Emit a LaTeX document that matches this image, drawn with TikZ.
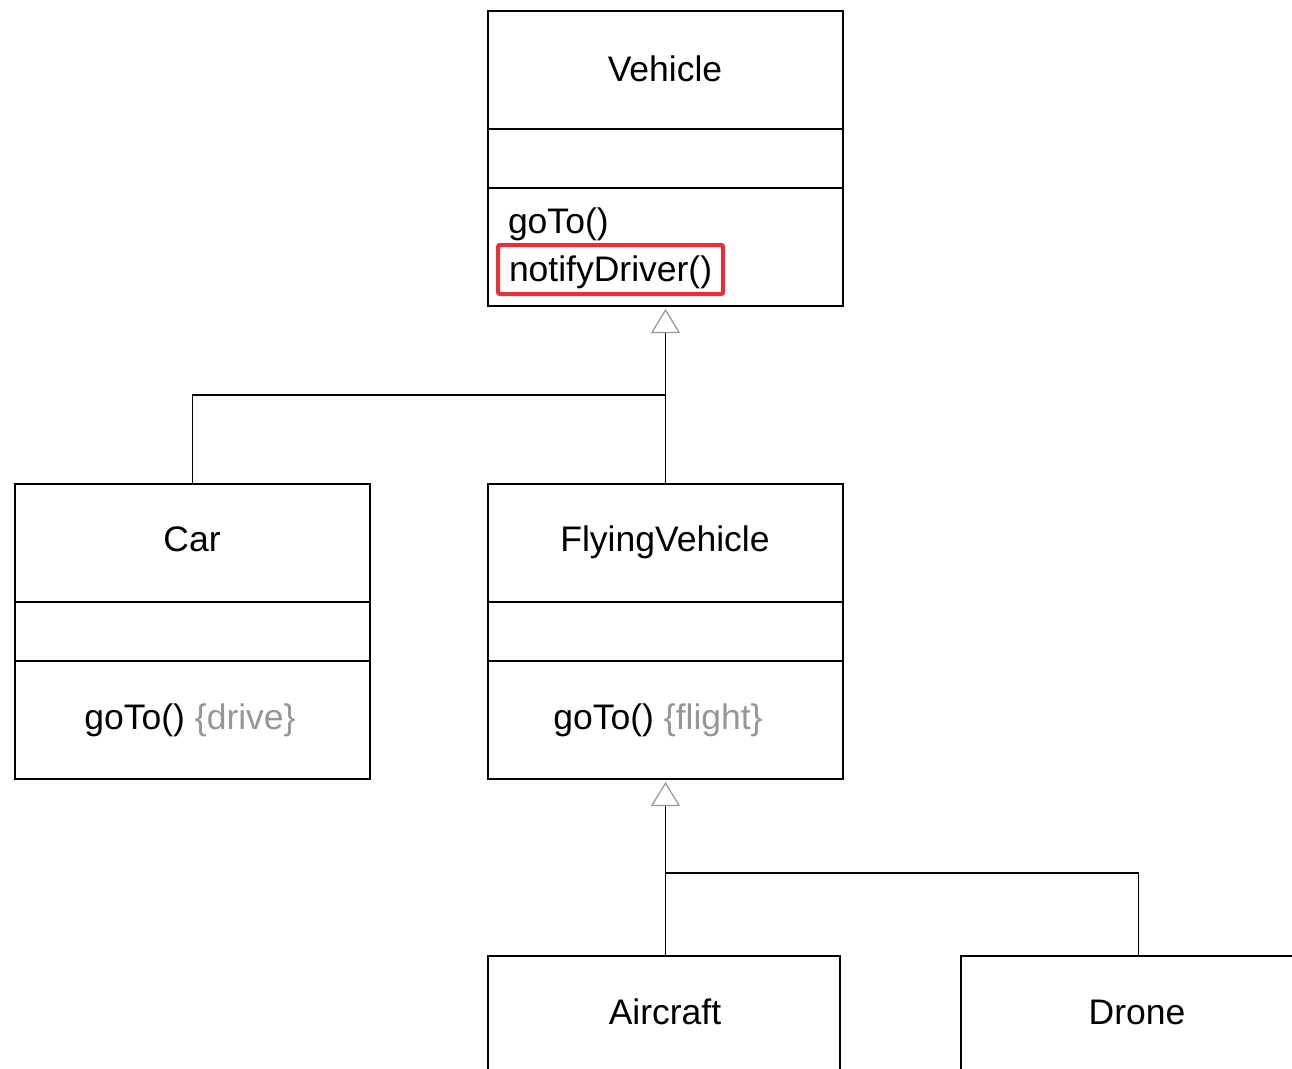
\documentclass[tikz,border=0pt]{standalone}
\usepackage{fontspec}
\setmainfont{Liberation Sans}
\usetikzlibrary{arrows.meta}
\definecolor{hlred}{RGB}{232,48,52}
\definecolor{notegray}{RGB}{150,150,150}
\begin{document}
\begin{tikzpicture}[x=1pt,y=-1pt,
  classbox/.style={draw=black,line width=1.8pt,minimum width=355pt,minimum height=295pt,inner sep=0pt,outer sep=0pt},
  label/.style={font=\fontsize{35.5}{42}\selectfont,inner sep=0pt,outer sep=0pt},
  divider/.style={line width=1.8pt},
  link/.style={line width=1.8pt},
  inherit/.style={link,-{Triangle[open,length=24pt,width=29pt,line width=1.2pt,color=notegray,fill=white]},shorten >=3pt},
  hlbox/.style={draw=hlred,line width=4pt,rounded corners=2pt,inner xsep=11pt,inner ysep=0pt,text height=36pt,text depth=13pt,outer sep=0pt}
]
\useasboundingbox (0,0) rectangle (1292,1068);
\clip (0,0) rectangle (1292,1068);

% class boxes
\node[classbox] (vehicle) at (665.5,158.5) {};
\node[classbox] (car) at (192.5,631.5) {};
\node[classbox] (flying) at (665.5,631.5) {};
\node[classbox,minimum width=352pt] (aircraft) at (664,1103.5) {};
\node[classbox] (drone) at (1138.5,1103.5) {};

% compartments
\draw[divider] (488,129) -- (843,129) (488,188) -- (843,188);
\draw[divider] (15,602) -- (370,602) (15,661) -- (370,661);
\draw[divider] (488,602) -- (843,602) (488,661) -- (843,661);

% names and operations
\node[label,anchor=base] (vname) at (665,81) {Vehicle};
\node[label,anchor=base west] (vgoto) at (508,233) {goTo()};
\node[label,hlbox,anchor=base west] (vnotify) at (498,281) {notifyDriver()};
\node[label,anchor=base] (cname) at (192,551) {Car};
\node[label,anchor=base] (cgoto) at (190,729) {goTo() \textcolor{notegray}{\{drive\}}};
\node[label,anchor=base] (fname) at (665,551) {FlyingVehicle};
\node[label,anchor=base] (fgoto) at (658,729) {goTo() \textcolor{notegray}{\{flight\}}};
\node[label,anchor=base] (aname) at (665,1024) {Aircraft};
\node[label,anchor=base] (dname) at (1137,1024) {Drone};

% generalisation
\coordinate (j1) at (665.5,395);
\coordinate (j2) at (665.5,873);
\draw[link] (car.north) |- (j1);
\draw[inherit] (flying.north) -- (vehicle.south);
\draw[link] (drone.north) |- (j2);
\draw[inherit] (aircraft.north -| j2) -- (flying.south);
\end{tikzpicture}
\end{document}
